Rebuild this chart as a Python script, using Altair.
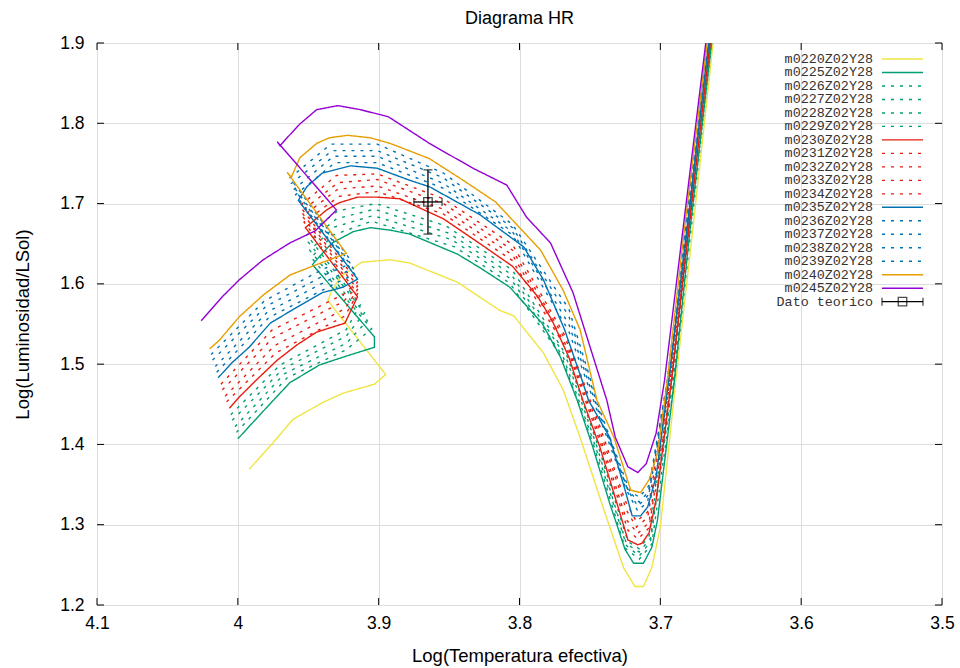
import altair as alt
import pandas as pd

# ---------------- data ----------------
NAMES = ["m0220Z02Y28", "m0225Z02Y28", "m0226Z02Y28", "m0227Z02Y28", "m0228Z02Y28",
         "m0229Z02Y28", "m0230Z02Y28", "m0231Z02Y28", "m0232Z02Y28", "m0233Z02Y28",
         "m0234Z02Y28", "m0235Z02Y28", "m0236Z02Y28", "m0237Z02Y28", "m0238Z02Y28",
         "m0239Z02Y28", "m0240Z02Y28", "m0245Z02Y28"]

T_m0220 = [3.992,3.975,3.961,3.940,3.925,3.903,3.895,3.936,3.934,3.927,3.912,3.892,3.878,3.844,3.814,3.804,3.783,3.769,3.757,3.740,3.726,3.718,3.712,3.706,3.700,3.689,3.677,3.661]
L_m0220 = [1.369,1.402,1.431,1.452,1.464,1.475,1.487,1.579,1.589,1.609,1.627,1.630,1.626,1.602,1.567,1.560,1.514,1.468,1.409,1.318,1.246,1.223,1.223,1.247,1.297,1.480,1.667,1.925]

T_m0225 = [4.000,3.979,3.963,3.942,3.923,3.903,3.903,3.947,3.940,3.933,3.918,3.906,3.892,3.878,3.844,3.828,3.807,3.784,3.771,3.759,3.748,3.736,3.725,3.719,3.712,3.706,3.702,3.690,3.679,3.662]
L_m0225 = [1.407,1.447,1.477,1.499,1.510,1.521,1.534,1.624,1.638,1.651,1.665,1.670,1.667,1.662,1.637,1.620,1.596,1.551,1.509,1.455,1.397,1.327,1.269,1.252,1.252,1.272,1.306,1.480,1.667,1.925]

T_m0226 = [4.001,3.965,3.923,3.905,3.948,3.932,3.905,3.846,3.807,3.770,3.747,3.725,3.715,3.706,3.690,3.662]
L_m0226 = [1.415,1.483,1.518,1.544,1.633,1.661,1.678,1.646,1.601,1.509,1.397,1.271,1.257,1.276,1.480,1.925]
T_m0227 = [4.002,3.967,3.923,3.908,3.949,3.931,3.904,3.848,3.806,3.769,3.746,3.724,3.715,3.707,3.691,3.662]
L_m0227 = [1.422,1.488,1.526,1.554,1.642,1.671,1.685,1.655,1.606,1.509,1.397,1.274,1.261,1.279,1.480,1.925]
T_m0228 = [4.004,3.968,3.923,3.910,3.950,3.930,3.903,3.850,3.806,3.767,3.745,3.724,3.715,3.707,3.691,3.663]
L_m0228 = [1.430,1.494,1.535,1.564,1.652,1.681,1.693,1.663,1.612,1.509,1.397,1.276,1.266,1.283,1.480,1.925]
T_m0229 = [4.005,3.970,3.923,3.913,3.951,3.929,3.902,3.852,3.805,3.766,3.744,3.723,3.715,3.708,3.692,3.663]
L_m0229 = [1.437,1.499,1.543,1.574,1.661,1.691,1.700,1.672,1.617,1.509,1.397,1.279,1.270,1.286,1.480,1.925]

T_m0230 = [4.006,3.999,3.987,3.972,3.958,3.944,3.924,3.915,3.952,3.937,3.928,3.915,3.901,3.885,3.854,3.828,3.805,3.787,3.777,3.765,3.755,3.743,3.730,3.723,3.716,3.713,3.708,3.703,3.692,3.680,3.663]
L_m0230 = [1.445,1.459,1.480,1.505,1.524,1.540,1.551,1.584,1.670,1.692,1.701,1.708,1.708,1.706,1.681,1.650,1.622,1.584,1.555,1.509,1.455,1.397,1.322,1.281,1.275,1.277,1.290,1.331,1.480,1.667,1.925]

T_m0231 = [4.008,3.973,3.924,3.915,3.953,3.928,3.901,3.854,3.805,3.765,3.743,3.723,3.716,3.708,3.692,3.663]
L_m0231 = [1.453,1.514,1.560,1.588,1.677,1.709,1.715,1.687,1.629,1.514,1.404,1.293,1.282,1.296,1.480,1.925]
T_m0232 = [4.009,3.974,3.924,3.915,3.954,3.929,3.901,3.854,3.805,3.765,3.743,3.724,3.716,3.708,3.693,3.663]
L_m0232 = [1.460,1.523,1.569,1.593,1.684,1.718,1.722,1.693,1.636,1.518,1.410,1.306,1.289,1.303,1.480,1.925]
T_m0233 = [4.011,3.975,3.925,3.915,3.955,3.929,3.901,3.854,3.805,3.765,3.743,3.724,3.717,3.709,3.693,3.664]
L_m0233 = [1.468,1.533,1.578,1.597,1.690,1.726,1.730,1.700,1.642,1.523,1.417,1.318,1.297,1.309,1.480,1.925]
T_m0234 = [4.012,3.976,3.925,3.915,3.956,3.930,3.901,3.854,3.805,3.765,3.743,3.725,3.717,3.709,3.694,3.664]
L_m0234 = [1.475,1.542,1.587,1.602,1.697,1.735,1.737,1.706,1.649,1.527,1.423,1.330,1.304,1.316,1.480,1.925]

T_m0235 = [4.014,4.004,3.992,3.977,3.958,3.940,3.925,3.915,3.957,3.951,3.940,3.920,3.901,3.878,3.864,3.828,3.797,3.783,3.768,3.755,3.751,3.736,3.725,3.720,3.714,3.709,3.703,3.694,3.681,3.664]
L_m0235 = [1.483,1.502,1.521,1.551,1.571,1.589,1.596,1.606,1.704,1.721,1.738,1.747,1.744,1.729,1.721,1.686,1.646,1.605,1.543,1.477,1.455,1.409,1.343,1.311,1.311,1.322,1.360,1.480,1.667,1.925]

T_m0236 = [4.015,3.978,3.929,3.917,3.959,3.931,3.901,3.854,3.805,3.765,3.743,3.724,3.716,3.709,3.694,3.664]
L_m0236 = [1.490,1.558,1.602,1.612,1.711,1.751,1.751,1.719,1.661,1.541,1.433,1.343,1.317,1.329,1.480,1.925]
T_m0237 = [4.016,3.979,3.933,3.918,3.960,3.932,3.901,3.854,3.805,3.765,3.743,3.723,3.716,3.709,3.694,3.664]
L_m0237 = [1.497,1.565,1.607,1.619,1.718,1.759,1.759,1.725,1.665,1.550,1.436,1.343,1.323,1.336,1.480,1.925]
T_m0238 = [4.018,3.980,3.936,3.920,3.962,3.933,3.901,3.854,3.805,3.765,3.743,3.723,3.715,3.708,3.695,3.665]
L_m0238 = [1.505,1.572,1.613,1.625,1.725,1.766,1.766,1.732,1.670,1.560,1.440,1.343,1.328,1.342,1.480,1.925]
T_m0239 = [4.019,3.981,3.940,3.921,3.963,3.934,3.901,3.854,3.805,3.765,3.743,3.722,3.715,3.708,3.695,3.665]
L_m0239 = [1.512,1.579,1.618,1.632,1.732,1.774,1.774,1.738,1.674,1.569,1.443,1.343,1.334,1.349,1.480,1.925]

T_m0240 = [4.020,4.013,3.999,3.982,3.963,3.944,3.923,3.965,3.962,3.956,3.944,3.935,3.922,3.906,3.892,3.883,3.864,3.840,3.817,3.785,3.769,3.757,3.745,3.733,3.721,3.714,3.708,3.702,3.695,3.683,3.665]
L_m0240 = [1.519,1.530,1.559,1.586,1.611,1.624,1.638,1.739,1.733,1.757,1.775,1.782,1.785,1.782,1.775,1.769,1.756,1.729,1.702,1.642,1.592,1.543,1.455,1.409,1.343,1.340,1.356,1.389,1.480,1.667,1.925]

T_m0245 = [4.026,4.011,3.999,3.982,3.963,3.945,3.930,3.972,3.970,3.965,3.956,3.944,3.929,3.913,3.893,3.864,3.833,3.809,3.795,3.778,3.762,3.738,3.732,3.723,3.716,3.710,3.703,3.700,3.697,3.684,3.666]
L_m0245 = [1.554,1.584,1.605,1.630,1.651,1.666,1.692,1.777,1.772,1.782,1.799,1.817,1.822,1.817,1.808,1.775,1.744,1.723,1.683,1.651,1.589,1.455,1.409,1.372,1.365,1.376,1.414,1.447,1.480,1.667,1.925]

# theoretical point with error bars
DATO_T, DATO_L = 3.865, 1.702
DATO_ET, DATO_EL = 0.010, 0.040

XTICKS = [3.5, 3.6, 3.7, 3.8, 3.9, 4.0, 4.1]
YTICKS = [1.2, 1.3, 1.4, 1.5, 1.6, 1.7, 1.8, 1.9]

# ---------------- styles ----------------
GREEN, RED, BLUE = "#009e73", "#e51e10", "#0072b2"
COLORS = ["#f0e442", GREEN, GREEN, GREEN, GREEN, GREEN, RED, RED, RED, RED, RED,
          BLUE, BLUE, BLUE, BLUE, BLUE, "#e69f00", "#9400d3"]
SOLID, DASH = [1, 0], [3, 6]
DASHES = [SOLID, SOLID, DASH, DASH, DASH, DASH, SOLID, DASH, DASH, DASH, DASH,
          SOLID, DASH, DASH, DASH, DASH, SOLID, SOLID]
WIDTHS = [1.4 if d == SOLID else 1.1 for d in DASHES]

TRACKS = {
    "m0220Z02Y28": (T_m0220, L_m0220), "m0225Z02Y28": (T_m0225, L_m0225),
    "m0226Z02Y28": (T_m0226, L_m0226), "m0227Z02Y28": (T_m0227, L_m0227),
    "m0228Z02Y28": (T_m0228, L_m0228), "m0229Z02Y28": (T_m0229, L_m0229),
    "m0230Z02Y28": (T_m0230, L_m0230), "m0231Z02Y28": (T_m0231, L_m0231),
    "m0232Z02Y28": (T_m0232, L_m0232), "m0233Z02Y28": (T_m0233, L_m0233),
    "m0234Z02Y28": (T_m0234, L_m0234), "m0235Z02Y28": (T_m0235, L_m0235),
    "m0236Z02Y28": (T_m0236, L_m0236), "m0237Z02Y28": (T_m0237, L_m0237),
    "m0238Z02Y28": (T_m0238, L_m0238), "m0239Z02Y28": (T_m0239, L_m0239),
    "m0240Z02Y28": (T_m0240, L_m0240), "m0245Z02Y28": (T_m0245, L_m0245),
}

rows = []
for name in NAMES:
    ts, ls = TRACKS[name]
    for i, (t, l) in enumerate(zip(ts, ls)):
        rows.append({"track": name, "i": i, "logT": t, "logL": l})
df = pd.DataFrame(rows)

W, H = 845, 562
FONT = "Liberation Sans"

color_enc = alt.Color("track:N", scale=alt.Scale(domain=NAMES, range=COLORS), legend=None)
dash_enc = alt.StrokeDash("track:N", scale=alt.Scale(domain=NAMES, range=DASHES), legend=None)
width_enc = alt.StrokeWidth("track:N", scale=alt.Scale(domain=NAMES, range=WIDTHS), legend=None)

xscale = alt.Scale(domain=[3.5, 4.1], reverse=True, nice=False, zero=False)
yscale = alt.Scale(domain=[1.2, 1.9], nice=False, zero=False)

xaxis = alt.Axis(values=XTICKS, format="~g", grid=True, ticks=False, domain=False,
                 labelFontSize=17.5, labelPadding=9, labelFlush=False,
                 title="Log(Temperatura efectiva)",
                 titleFontSize=18.5, titleFontWeight="normal", titleY=56, titleBaseline="alphabetic")
yaxis = alt.Axis(values=YTICKS, format="~g", grid=True, ticks=False, domain=False,
                 labelFontSize=17.5, labelPadding=13, labelFlush=False,
                 title="Log(Luminosidad/LSol)",
                 titleFontSize=18.5, titleFontWeight="normal", titleX=-69, titleY=H / 2,
                 titleAngle=-90, titleBaseline="alphabetic", titleAlign="center")


def X(field):
    return alt.X(field, scale=xscale, axis=xaxis)


def Y(field):
    return alt.Y(field, scale=yscale, axis=yaxis)


tracks = alt.Chart(df).mark_line(clip=True).encode(
    x=X("logT:Q"), y=Y("logL:Q"),
    color=color_enc, strokeDash=dash_enc, strokeWidth=width_enc,
    order=alt.Order("i:Q"),
    detail="track:N",
)

# inward ticks (gnuplot style, mirrored)
xt = pd.DataFrame({"t": XTICKS})
yt = pd.DataFrame({"l": YTICKS})
TL = 7
tick_b = alt.Chart(xt).mark_rule(color="black").encode(x=X("t:Q"), y=alt.value(H), y2=alt.value(H - TL))
tick_t = alt.Chart(xt).mark_rule(color="black").encode(x=X("t:Q"), y=alt.value(0), y2=alt.value(TL))
tick_l = alt.Chart(yt).mark_rule(color="black").encode(y=Y("l:Q"), x=alt.value(0), x2=alt.value(TL))
tick_r = alt.Chart(yt).mark_rule(color="black").encode(y=Y("l:Q"), x=alt.value(W), x2=alt.value(W - TL))

# theoretical point
pt = pd.DataFrame({"T": [DATO_T], "L": [DATO_L],
                   "Tlo": [DATO_T - DATO_ET], "Thi": [DATO_T + DATO_ET],
                   "Llo": [DATO_L - DATO_EL], "Lhi": [DATO_L + DATO_EL]})
base_pt = alt.Chart(pt)
vbar = base_pt.mark_rule(color="black", strokeWidth=1.3).encode(x=X("T:Q"), y=Y("Llo:Q"), y2="Lhi:Q")
hbar = base_pt.mark_rule(color="black", strokeWidth=1.3).encode(x=X("Tlo:Q"), x2="Thi:Q", y=Y("L:Q"))
cap_top = base_pt.mark_tick(color="black", orient="horizontal", size=9, thickness=1.3).encode(x=X("T:Q"), y=Y("Lhi:Q"))
cap_bot = base_pt.mark_tick(color="black", orient="horizontal", size=9, thickness=1.3).encode(x=X("T:Q"), y=Y("Llo:Q"))
cap_lft = base_pt.mark_tick(color="black", orient="vertical", size=8, thickness=1.3).encode(x=X("Thi:Q"), y=Y("L:Q"))
cap_rgt = base_pt.mark_tick(color="black", orient="vertical", size=8, thickness=1.3).encode(x=X("Tlo:Q"), y=Y("L:Q"))
square = base_pt.mark_point(shape="square", size=72, filled=False, color="black", strokeWidth=1.3).encode(
    x=X("T:Q"), y=Y("L:Q"))

main = alt.layer(tracks, tick_b, tick_t, tick_l, tick_r, vbar, hbar,
                 cap_top, cap_bot, cap_lft, cap_rgt, square)

# key (gnuplot style: label right-aligned, sample on the right)
LABELS = NAMES + ["Dato teorico"]
leg_txt = pd.DataFrame({"row": list(range(len(LABELS))), "label": LABELS})
leg_lin = pd.DataFrame({"row": list(range(len(NAMES))), "track": NAMES})
leg_pt = pd.DataFrame({"row": [len(NAMES)]})
rowscale = alt.Scale(domain=[0, len(LABELS) - 1], range=[16, 258.7])
ry = alt.Y("row:Q", scale=rowscale, axis=None)

key_text = alt.Chart(leg_txt).mark_text(align="right", baseline="middle", font="Liberation Mono",
                                        fontSize=13.4, color="#333333").encode(
    x=alt.value(776), y=ry, text="label:N")
key_lines = alt.Chart(leg_lin).mark_rule().encode(
    x=alt.value(785), x2=alt.value(826), y=ry,
    color=color_enc, strokeDash=dash_enc, strokeWidth=width_enc)
key_pt_line = alt.Chart(leg_pt).mark_rule(color="black", strokeWidth=1.3).encode(
    x=alt.value(785), x2=alt.value(826), y=ry)
key_cap1 = alt.Chart(leg_pt).mark_tick(color="black", orient="vertical", size=8, thickness=1.3).encode(x=alt.value(785), y=ry)
key_cap2 = alt.Chart(leg_pt).mark_tick(color="black", orient="vertical", size=8, thickness=1.3).encode(x=alt.value(826), y=ry)
key_sq = alt.Chart(leg_pt).mark_point(shape="square", size=72, filled=False, color="black", strokeWidth=1.3).encode(
    x=alt.value(805.5), y=ry)

key = alt.layer(key_text, key_lines, key_pt_line, key_cap1, key_cap2, key_sq)

chart = alt.layer(main, key).resolve_scale(y="independent").properties(
    width=W, height=H,
    title=alt.TitleParams("Diagrama HR", fontSize=18, font=FONT, fontWeight="normal",
                          anchor="middle", offset=6, color="black"),
    autosize=alt.AutoSizeParams(type="none"),
    padding={"left": 97, "top": 43, "right": 18, "bottom": 63},
).configure_view(stroke="black", strokeWidth=1.2).configure_axis(
    labelFont=FONT, titleFont=FONT, labelColor="black", titleColor="black",
    titleFontWeight="normal", gridColor="#222222", gridDash=[1, 3], gridOpacity=0.8, gridWidth=1,
).configure(background="white")

chart.save("out.html", embed_options={"renderer": "svg", "actions": False})
